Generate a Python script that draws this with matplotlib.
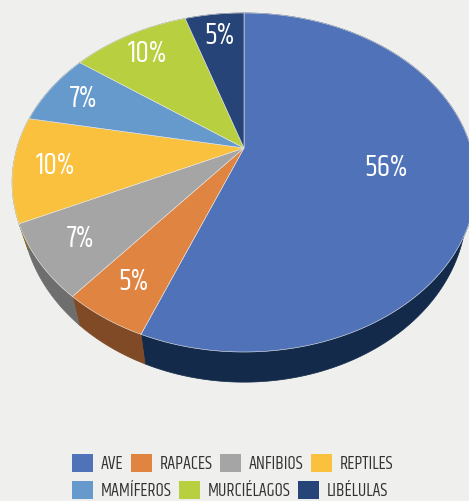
import numpy as np
import matplotlib
matplotlib.use("Agg")
import matplotlib.pyplot as plt
from matplotlib.patches import Polygon, Patch

categories = ['AVE', 'RAPACES', 'ANFIBIOS', 'REPTILES', 'MAMÍFEROS', 'MURCIÉLAGOS', 'LIBÉLULAS']
values = [56, 5, 7, 10, 7, 10, 5]
colors = ['#5072B8', '#E08442', '#A5A5A5', '#F9C13E', '#6699CC', '#B8CF40', '#264478']
side_colors = ['#132A4B', '#7F4A25', '#6E6E6E', '#8F6F24', '#3B5877', '#6A7725', '#152744']

FONT = ['Khand', 'DejaVu Sans']
BG = '#EFEFED'

# perspective ellipse (pixel units)
cx, cy = 244, 148
a, b, k = 162.5, 227, 0.2035
depth = 24
shrink = 0.96


def top_pt(theta, r=1.0):
    X, Z = r * np.cos(theta), r * np.sin(theta)
    w = 1 + k * Z
    return cx + b * X / w, cy - a * Z / w


def bot_pt(theta):
    x, y = top_pt(theta)
    w = 1 + k * np.sin(theta)
    return cx + shrink * (x - cx), y + depth / w


fig = plt.figure(figsize=(4.69, 5.01), dpi=100, facecolor=BG)
ax = fig.add_axes([0, 0, 1, 1])
ax.set_xlim(0, 469)
ax.set_ylim(501, 0)
ax.axis('off')

fracs = np.array(values) / sum(values)
starts = 90 - 360 * np.concatenate([[0], np.cumsum(fracs)[:-1]])
ends = starts - 360 * fracs

# sides first
for i in range(len(values)):
    th = np.radians(np.linspace(starts[i], ends[i], 200))
    topx, topy = top_pt(th)
    bx, by = bot_pt(th)
    pts = np.column_stack([np.concatenate([topx, bx[::-1]]),
                           np.concatenate([topy, by[::-1]])])
    ax.add_patch(Polygon(pts, closed=True, facecolor=side_colors[i],
                         edgecolor=side_colors[i], linewidth=0.5))

# top faces
for i in range(len(values)):
    th = np.radians(np.linspace(starts[i], ends[i], 200))
    x, y = top_pt(th)
    pts = np.column_stack([np.concatenate([[cx], x]), np.concatenate([[cy], y])])
    ax.add_patch(Polygon(pts, closed=True, facecolor=colors[i],
                         edgecolor='#E8E8E8', linewidth=0.4))

# labels
for i, v in enumerate(values):
    mid = np.radians((starts[i] + ends[i]) / 2)
    r = 0.62 if v > 50 else 0.82
    x, y = top_pt(mid, r)
    ax.text(x, y, f'{v}%', color='white', fontsize=22, family=FONT,
            ha='center', va='center')

# legend in two rows
handles = [Patch(facecolor=c, edgecolor='none') for c in colors]
leg_kw = dict(frameon=False, prop={'family': FONT, 'size': 13}, labelcolor='#333333',
              handlelength=1.16, handleheight=1.16, handletextpad=0.44, columnspacing=0.4,
              borderaxespad=0, borderpad=0, loc='center left')
leg1 = fig.legend(handles[:4], categories[:4], ncol=4,
                  bbox_to_anchor=(72 / 469, 1 - 463 / 501), **leg_kw)
leg2 = fig.legend(handles[4:], categories[4:], ncol=3,
                  bbox_to_anchor=(72 / 469, 1 - 490 / 501), **leg_kw)

fig.savefig('out.png', dpi=100, facecolor=BG)
